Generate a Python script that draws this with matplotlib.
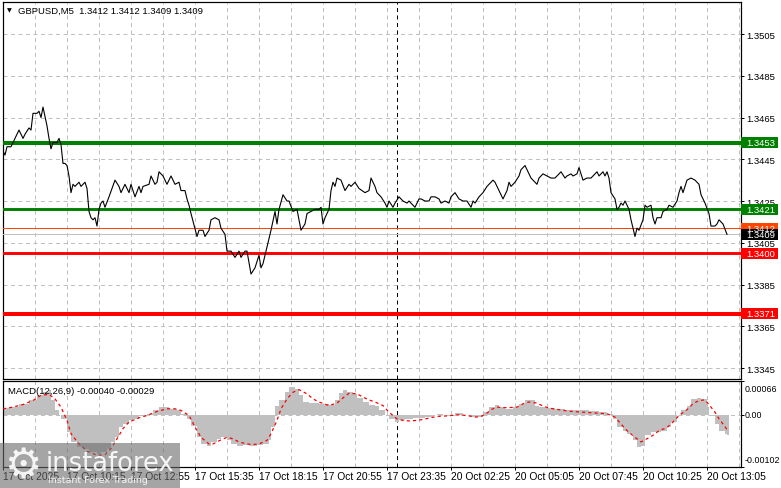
import numpy as np
import matplotlib
matplotlib.use('Agg')
from matplotlib import pyplot as plt
from matplotlib.patches import Rectangle
from matplotlib.transforms import blended_transform_factory

# GBPUSD M5 close line (bar index, close price)
close_bar = [0, 1, 2, 4, 6, 8, 10, 11, 13, 14, 15, 17, 18, 19, 20, 22, 23, 24, 25, 27,
             28, 29, 30, 31, 32, 33, 34, 35, 36, 38, 39, 41, 42, 43, 44, 45, 46, 47, 48, 49,
             50, 51, 53, 56, 58, 59, 61, 63, 64, 66, 68, 69, 70, 73, 74, 76, 77, 78, 80, 82,
             84, 86, 88, 89, 91, 92, 93, 94, 97, 98, 100, 101, 103, 104, 106, 108, 109, 111, 112, 114,
             116, 118, 119, 121, 122, 124, 126, 128, 129, 130, 132, 134, 136, 137, 138, 140, 142, 143, 145, 147,
             148, 149, 151, 152, 154, 156, 158, 159, 160, 161, 163, 164, 165, 166, 167, 169, 171, 173, 174, 176,
             178, 181, 183, 184, 186, 187, 189, 191, 192, 193, 195, 196, 198, 200, 202, 203, 204, 206, 208, 209,
             211, 213, 214, 216, 218, 219, 221, 223, 224, 226, 228, 230, 232, 234, 235, 236, 238, 240, 242, 243,
             245, 246, 248, 250, 252, 253, 254, 256, 258, 259, 261, 263, 264, 267, 268, 270, 272, 274, 276, 278,
             279, 281, 282, 284, 285, 287, 288, 290, 292, 294, 295, 297, 298, 300, 301, 302, 303, 304, 306, 307,
             308, 309, 310, 311, 313, 314, 316, 317, 318, 320, 321, 322, 324, 325, 326, 327, 329, 330, 332, 333,
             335, 337, 338, 339, 340, 341, 342, 344, 346, 348, 349, 351, 353, 354, 356, 357, 358, 360, 362]
close_px = [1.3449, 1.3447, 1.3451, 1.3451, 1.3455, 1.3459, 1.3455, 1.3457, 1.3460, 1.3459, 1.3467, 1.3467, 1.3468, 1.3465, 1.3470, 1.3461, 1.3455, 1.3450, 1.3453, 1.3453,
            1.3455, 1.3452, 1.3443, 1.3443, 1.3442, 1.3437, 1.3429, 1.3433, 1.3432, 1.3434, 1.3432, 1.3434, 1.3431, 1.3420, 1.3417, 1.3416, 1.3417, 1.3413, 1.3421, 1.3424,
            1.3425, 1.3422, 1.3427, 1.3435, 1.3432, 1.3429, 1.3433, 1.3429, 1.3433, 1.3427, 1.3432, 1.3429, 1.3432, 1.3433, 1.3437, 1.3433, 1.3434, 1.3439, 1.3437, 1.3433,
            1.3437, 1.3433, 1.3434, 1.3430, 1.3430, 1.3426, 1.3423, 1.3419, 1.3408, 1.3411, 1.3411, 1.3408, 1.3411, 1.3416, 1.3417, 1.3416, 1.3412, 1.3409, 1.3401, 1.3401,
            1.3398, 1.3401, 1.3398, 1.3401, 1.3401, 1.3390, 1.3393, 1.3399, 1.3393, 1.3395, 1.3403, 1.3411, 1.3420, 1.3414, 1.3421, 1.3428, 1.3425, 1.3425, 1.3420, 1.3421,
            1.3416, 1.3411, 1.3414, 1.3419, 1.3420, 1.3421, 1.3421, 1.3422, 1.3414, 1.3417, 1.3421, 1.3430, 1.3434, 1.3432, 1.3436, 1.3435, 1.3430, 1.3433, 1.3432, 1.3434,
            1.3431, 1.3429, 1.3430, 1.3436, 1.3432, 1.3429, 1.3427, 1.3424, 1.3422, 1.3425, 1.3422, 1.3424, 1.3427, 1.3425, 1.3424, 1.3425, 1.3424, 1.3422, 1.3426, 1.3426,
            1.3425, 1.3425, 1.3427, 1.3427, 1.3426, 1.3424, 1.3425, 1.3424, 1.3427, 1.3429, 1.3426, 1.3425, 1.3425, 1.3422, 1.3425, 1.3424, 1.3427, 1.3429, 1.3432, 1.3433,
            1.3435, 1.3434, 1.3430, 1.3426, 1.3430, 1.3434, 1.3432, 1.3434, 1.3437, 1.3440, 1.3442, 1.3438, 1.3436, 1.3433, 1.3436, 1.3438, 1.3437, 1.3436, 1.3436, 1.3438,
            1.3439, 1.3436, 1.3437, 1.3438, 1.3437, 1.3438, 1.3441, 1.3435, 1.3436, 1.3436, 1.3437, 1.3439, 1.3437, 1.3439, 1.3437, 1.3439, 1.3436, 1.3429, 1.3426, 1.3421,
            1.3422, 1.3424, 1.3423, 1.3425, 1.3421, 1.3416, 1.3408, 1.3412, 1.3411, 1.3416, 1.3423, 1.3422, 1.3423, 1.3417, 1.3414, 1.3417, 1.3417, 1.3420, 1.3421, 1.3423,
            1.3422, 1.3425, 1.3429, 1.3432, 1.3429, 1.3432, 1.3435, 1.3436, 1.3435, 1.3433, 1.3428, 1.3424, 1.3419, 1.3413, 1.3413, 1.3414, 1.3416, 1.3414, 1.3409]

# MACD(12,26,9) histogram and signal line
hist_bar = [0, 3, 8, 13, 17, 20, 23, 24, 26, 28, 29, 32, 34, 37, 40, 43, 47, 49, 52, 54,
            56, 58, 60, 63, 65, 68, 72, 75, 78, 81, 83, 87, 89, 92, 94, 97, 99, 102, 104, 107,
            109, 112, 114, 117, 120, 123, 127, 130, 133, 134, 136, 138, 141, 143, 146, 148, 150, 153, 158, 163,
            166, 168, 170, 172, 175, 177, 180, 183, 186, 188, 191, 193, 196, 198, 201, 205, 208, 211, 215, 217,
            220, 223, 226, 227, 230, 233, 236, 240, 243, 246, 248, 251, 255, 258, 261, 263, 266, 268, 271, 276,
            281, 288, 293, 298, 302, 305, 307, 310, 312, 315, 317, 319, 321, 324, 327, 329, 332, 334, 337, 339,
            342, 344, 347, 349, 352, 353, 356, 358, 361, 362]
hist_val = [0.000130, 0.000150, 0.000215, 0.000280, 0.000380, 0.000440, 0.000475, 0.000280, 0.000085, 0.0,
            -0.000080, -0.000340, -0.000530, -0.000630, -0.000660, -0.000730, -0.000760, -0.000730, -0.000660, -0.000530,
            -0.000440, -0.000240, -0.000180, -0.000110, -0.000080, -0.000030, 0.000020, 0.000085, 0.000150, 0.000150,
            0.000120, 0.000085, 0.000020, -0.000080, -0.000210, -0.000440, -0.000570, -0.000600, -0.000530, -0.000470,
            -0.000440, -0.000500, -0.000570, -0.000600, -0.000590, -0.000600, -0.000590, -0.000570, -0.000500, -0.000240,
            0.000180, 0.000280, 0.000440, 0.000550, 0.000510, 0.000380, 0.000250, 0.000230, 0.000215, 0.000200,
            0.000280, 0.000420, 0.000475, 0.000440, 0.000410, 0.000330, 0.000250, 0.000200, 0.000180, 0.000100,
            0.0, -0.000080, -0.000140, -0.000110, -0.000080, -0.000060, -0.000060, -0.000045, -0.000013, 0.000020,
            0.0, -0.000033, 0.000033, 0.000033, -0.000013, -0.000045, -0.000045, 0.000050, 0.000150, 0.000195,
            0.000150, 0.000120, 0.000150, 0.000215, 0.000290, 0.000280, 0.000180, 0.000150, 0.000130, 0.000120,
            0.000100, 0.000100, 0.000070, 0.000050, 0.000020, -0.000080, -0.000240, -0.000310, -0.000370, -0.000500,
            -0.000620, -0.000600, -0.000400, -0.000340, -0.000340, -0.000310, -0.000240, -0.000140, 0.0, 0.000085,
            0.000180, 0.000310, 0.000330, 0.000310, 0.000160, -0.000033, -0.000180, -0.000310, -0.000370, -0.000400]
sig_bar = [0, 5, 10, 15, 19, 23, 26, 29, 32, 34, 38, 42, 47, 51, 54, 57, 60, 63, 68, 72,
           77, 82, 86, 89, 93, 96, 99, 103, 105, 109, 112, 115, 118, 122, 125, 128, 132, 134, 137, 139,
           142, 145, 148, 152, 155, 158, 163, 167, 170, 173, 177, 180, 183, 186, 190, 193, 197, 200, 203, 207,
           210, 213, 217, 220, 223, 227, 230, 233, 236, 239, 242, 244, 247, 250, 253, 257, 260, 263, 267, 270,
           273, 278, 283, 290, 297, 302, 306, 309, 312, 316, 319, 321, 325, 328, 332, 335, 338, 342, 345, 348,
           351, 353, 356, 358, 361, 362]
sig_val = [0.000117, 0.000150, 0.000200, 0.000280, 0.000380, 0.000400, 0.000310, 0.000150, -0.000110, -0.000370,
           -0.000570, -0.000710, -0.000790, -0.000780, -0.000660, -0.000470, -0.000270, -0.000140, -0.000060, -0.000013,
           0.000065, 0.000117, 0.000117, 0.000085, -0.000013, -0.000240, -0.000440, -0.000570, -0.000570, -0.000490,
           -0.000440, -0.000470, -0.000530, -0.000570, -0.000580, -0.000570, -0.000500, -0.000370, -0.000110, 0.000117,
           0.000310, 0.000440, 0.000490, 0.000410, 0.000310, 0.000250, 0.000180, 0.000230, 0.000330, 0.000420,
           0.000410, 0.000345, 0.000290, 0.000250, 0.000180, 0.000050, -0.000080, -0.000110, -0.000120, -0.000110,
           -0.000090, -0.000065, -0.000033, -0.000026, -0.000020, 0.0, -0.000007, -0.000020, -0.000046, -0.000033,
           0.000033, 0.000100, 0.000150, 0.000140, 0.000140, 0.000150, 0.000215, 0.000250, 0.000230, 0.000170,
           0.000130, 0.000100, 0.000070, 0.000050, 0.000033, 0.000020, -0.000046, -0.000180, -0.000310, -0.000440,
           -0.000530, -0.000490, -0.000400, -0.000310, -0.000250, -0.000140, -0.000013, 0.000100, 0.000215, 0.000280,
           0.000290, 0.000200, 0.000050, -0.000080, -0.000230, -0.000290]

price_ticks = [1.3505, 1.3485, 1.3465, 1.3445, 1.3425, 1.3405, 1.3385, 1.3365, 1.3345]
level_prices = [1.3453, 1.3421, 1.3412, 1.3409, 1.3400, 1.3371]
level_labels = ['1.3453', '1.3421', '1.3412', '1.3409', '1.3400', '1.3371']
time_bars = [0, 32, 64, 96, 128, 160, 192, 224, 256, 288, 320, 352]
time_labels = ['17 Oct 2025', '17 Oct 10:15', '17 Oct 12:55', '17 Oct 15:35', '17 Oct 18:15',
               '17 Oct 20:55', '17 Oct 23:35', '20 Oct 02:25', '20 Oct 05:05', '20 Oct 07:45',
               '20 Oct 10:25', '20 Oct 13:05']
day_separator_bar = 197

# ---- drawing ----
W, H = 781, 489
PX = 0.72  # one pixel in points at dpi 100
plt.rcParams['font.family'] = ['Liberation Sans', 'DejaVu Sans']
plt.rcParams['font.size'] = 6.5

fig = plt.figure(figsize=(W / 100, H / 100), dpi=100)


def px_axes(x0, y0, x1, y1):
    return fig.add_axes([x0 / W, 1 - y1 / H, (x1 - x0) / W, (y1 - y0) / H])


ax = px_axes(3, 3, 741, 379.5)
ax2 = px_axes(3, 382, 741, 468)
n_bars = 369
grid_kw = dict(color='#c0c0c0', lw=PX, ls=(0, (4, 3.5)), zorder=0)

for a in (ax, ax2):
    a.set_xlim(0, n_bars)
    for s in a.spines.values():
        s.set_color('black')
        s.set_linewidth(PX * 1.2)
    for b in range(16, n_bars, 16):
        a.axvline(b, **grid_kw)
    a.axvline(day_separator_bar, color='black', lw=PX, ls=(0, (4, 3.5)), zorder=1)

# main price panel
ax.set_ylim(1.333998, 1.352033)
for p in price_ticks:
    ax.axhline(p, **grid_kw)
ax.plot(close_bar, close_px, color='black', lw=0.8, zorder=4)

level_colors = ['#008000', '#008000', '#ff4500', '#c0c0c0', '#ff0000', '#ff0000']
level_widths = [2.9, 2.1, PX, PX, 2.1, 2.9]
for p, c, w in zip(level_prices, level_colors, level_widths):
    ax.axhline(p, color=c, lw=w, zorder=3)

ax.set_xticks([])
ax.yaxis.tick_right()
ax.set_yticks(price_ticks)
ax.set_yticklabels(['%.4f' % p for p in price_ticks])
ax.tick_params(axis='y', length=2.2, width=PX, pad=1.5, labelsize=6.8, colors='black')

trans = blended_transform_factory(ax.transAxes, ax.transData)
half_h = 5.5 * 0.002 / 41.75
box_colors = ['#008000', '#008000', '#ff4500', '#000000', '#ff0000', '#ff0000']
for p, lab, c in zip(level_prices, level_labels, box_colors):
    ax.add_patch(Rectangle((1.0, p - half_h), 37 / 738, 2 * half_h, transform=trans,
                           clip_on=False, fc=c, ec='none', zorder=6))
    ax.text(1.0 + 5 / 738, p, lab, transform=trans, color='white', fontsize=6.8,
            va='center', ha='left', zorder=7, clip_on=False)

fig.text(9 / W, 1 - 11 / H, '\u25bc', fontsize=4.5, ha='center', va='center',
         family='DejaVu Sans')
fig.text(18 / W, 1 - 11 / H, 'GBPUSD,M5  1.3412 1.3412 1.3409 1.3409',
         fontsize=6.8, ha='left', va='center')

# MACD panel
ax2.set_ylim(-0.00102, 0.00066)
ax2.axhline(0, **grid_kw)
widths = np.diff(hist_bar + [hist_bar[-1] + 1])
ax2.bar(hist_bar, hist_val, width=widths, align='edge', color='#c0c0c0',
        linewidth=0, zorder=2)
ax2.plot(sig_bar, sig_val, color='#ff0000', lw=0.9, ls=(0, (2.5, 2.5)), zorder=3)

ax2.yaxis.tick_right()
ax2.set_yticks([0.00066, 0, -0.00102])
ax2.set_yticklabels(['', '', ''])
ax2.tick_params(axis='y', length=2.2, width=PX)
for lab, yp in [('0.00066', 389), ('0.00', 416), ('-0.00102', 460.7)]:
    ax2.text(1.0 + 4 / 738, (468 - yp) / 86, lab, transform=ax2.transAxes,
             fontsize=6.4, va='center', ha='left', clip_on=False)

ax2.set_xticks(time_bars)
ax2.set_xticklabels([''] * len(time_bars))
ax2.tick_params(axis='x', length=2.2, width=PX)
xtrans = blended_transform_factory(ax2.transData, ax2.transAxes)
for b, lab in zip(time_bars, time_labels):
    ax2.text(b, -(477.5 - 468) / 86, lab, transform=xtrans, fontsize=7.4,
             va='center', ha='left', clip_on=False)

ax2.text(5 / 738, (468 - 391) / 86, 'MACD(12,26,9) -0.00040 -0.00029',
         transform=ax2.transAxes, fontsize=6.8, va='center', ha='left', zorder=5)

# instaforex watermark
fig.add_artist(Rectangle((0, 0), 180 / W, 45 / H, transform=fig.transFigure,
                         fc='#6a6a6a', ec='none', alpha=0.6, zorder=10))
fig.text(23 / W, 1 - 466 / H, '\u2699', fontsize=30, color='white', alpha=0.9,
         ha='center', va='center', zorder=11, family='DejaVu Sans')
fig.text(46 / W, 1 - 471.5 / H, 'instaforex', fontsize=18.5, color='white', alpha=0.9,
         ha='left', va='baseline', zorder=11, family='DejaVu Sans')
fig.text(48 / W, 1 - 480.5 / H, 'Instant Forex Trading', fontsize=6.8, color='white',
         alpha=0.9, ha='left', va='center', zorder=11, family='DejaVu Sans')

fig.savefig('out.png', dpi=100, facecolor='white')
